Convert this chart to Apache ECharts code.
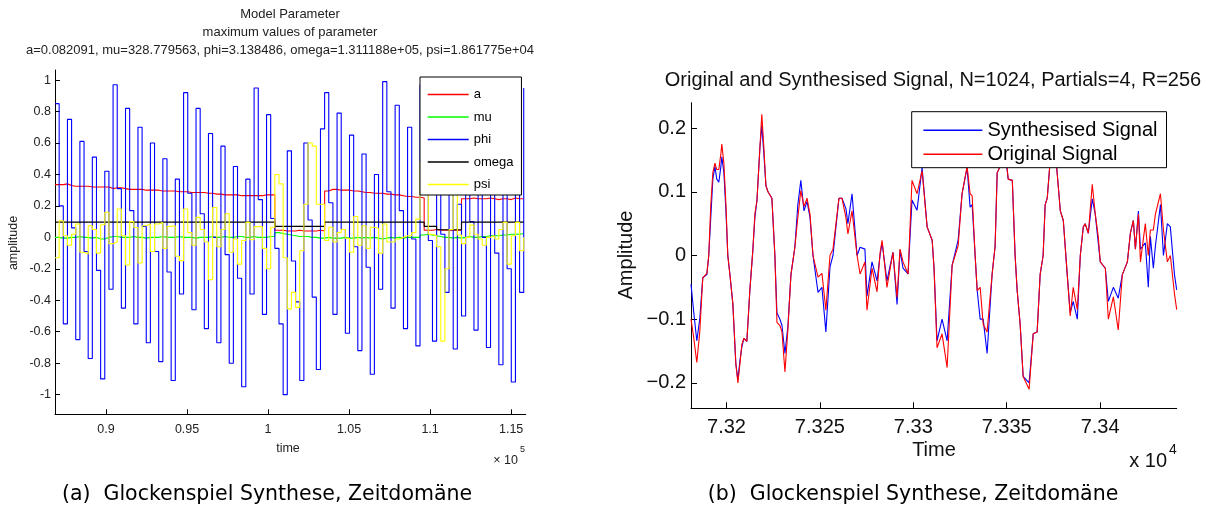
<!DOCTYPE html>
<html><head><meta charset="utf-8">
<script src="https://cdn.jsdelivr.net/npm/echarts@6/dist/echarts.min.js"></script>
<style>html,body{margin:0;padding:0;background:#fff}#c{width:1222px;height:510px}</style>
</head><body><div id="c"></div>
<script>
// ---------- left panel: model parameters (stairs, hop R=256) ----------
const paramStart = 86850;
const paramHop = 256;
const paramA = [0.335,0.335,0.34,0.33,0.325,0.325,0.325,0.325,0.32,0.32,0.32,0.32,0.32,0.31,0.315,0.315,0.31,0.305,0.305,0.305,0.305,0.30,0.30,0.30,0.30,0.295,0.295,0.295,0.295,0.29,0.29,0.29,0.285,0.285,0.285,0.285,0.28,0.28,0.275,0.275,0.27,0.27,0.27,0.27,0.265,0.265,0.265,0.265,0.265,0.265,0.27,0.27,0.27,0.045,0.045,0.04,0.04,0.04,0.045,0.04,0.04,0.04,0.04,0.045,0.04,0.295,0.305,0.305,0.30,0.30,0.30,0.295,0.295,0.29,0.285,0.285,0.28,0.28,0.28,0.275,0.275,0.27,0.27,0.265,0.26,0.26,0.255,0.255,0.25,0.045,0.045,0.05,0.045,0.045,0.045,0.045,0.045,0.045,0.245,0.245,0.25,0.245,0.245,0.245,0.25,0.245,0.24,0.245,0.245,0.24,0.25,0.245,0.245,0.245];
const paramMu = [0.0,-0.005,-0.005,0.0,0.0,0.005,0.0,0.0,-0.005,0.0,-0.01,-0.01,0.0,0.005,0.005,0.0,0.0,0.0,0.005,0.0,0.0,-0.005,0.0,0.0,0.0,0.005,0.0,0.0,0.0,0.005,0.0,0.0,0.0,-0.005,0.0,0.0,0.0,0.005,0.0,0.0,0.005,0.0,0.0,0.005,0.005,0.0,0.0,0.005,0.0,0.0,0.0,0.005,0.005,0.03,0.025,0.02,0.015,0.01,0.005,0.005,0.005,0.0,0.0,-0.005,-0.005,0.0,-0.005,-0.005,-0.005,0.0,-0.005,-0.005,0.0,-0.005,0.0,-0.005,0.0,-0.005,-0.01,-0.005,0.0,-0.005,0.0,-0.005,0.0,0.0,0.0,0.0,0.015,0.02,0.015,0.01,0.005,0.0,0.0,-0.005,0.0,-0.005,0.0,0.005,0.0,0.0,0.005,0.005,0.01,0.01,0.01,0.015,0.015,0.02,0.02,0.02,0.025,0.025];
const paramPhi = [0.85,0.20,-0.55,0.75,0.06,-0.65,0.61,-0.09,-0.77,0.51,-0.21,-0.90,0.42,-0.33,0.97,0.31,-0.45,0.82,0.17,-0.55,0.70,0.07,-0.67,0.60,-0.09,-0.79,0.50,-0.22,-0.91,0.37,-0.36,0.92,0.28,-0.46,0.82,0.15,-0.58,0.66,0.00,-0.67,0.58,-0.11,-0.80,0.45,-0.26,-0.95,0.37,-0.36,0.95,0.24,-0.49,0.78,0.12,-0.07,-0.55,-1.0,0.55,-0.15,-0.41,-0.91,0.60,0.11,-0.38,-0.84,0.69,0.92,0.22,-0.49,0.79,0.05,-0.61,0.65,-0.06,-0.72,0.53,-0.19,-0.87,0.40,-0.33,0.99,0.29,-0.45,0.84,0.17,-0.58,0.70,-0.01,-0.69,0.97,0.35,-0.02,-0.66,0.62,0.02,-0.35,0.75,-0.71,0.21,-0.50,0.82,0.10,-0.59,0.72,0.00,-0.70,0.63,-0.10,-0.81,0.55,-0.20,-0.92,0.48,-0.35,0.95];
const paramOmega = [0.097,0.097,0.097,0.097,0.097,0.097,0.097,0.097,0.097,0.097,0.097,0.097,0.097,0.097,0.097,0.097,0.097,0.097,0.097,0.097,0.097,0.097,0.097,0.097,0.097,0.097,0.097,0.097,0.097,0.097,0.097,0.097,0.097,0.097,0.097,0.097,0.097,0.097,0.097,0.097,0.097,0.097,0.097,0.097,0.097,0.097,0.097,0.097,0.097,0.097,0.097,0.097,0.097,0.07,0.07,0.07,0.07,0.07,0.07,0.07,0.07,0.07,0.07,0.07,0.07,0.097,0.097,0.097,0.097,0.097,0.097,0.097,0.097,0.097,0.097,0.097,0.097,0.097,0.097,0.097,0.097,0.097,0.097,0.097,0.097,0.097,0.097,0.097,0.097,0.07,0.07,0.07,0.048,0.048,0.048,0.048,0.048,0.048,0.097,0.097,0.097,0.097,0.097,0.097,0.097,0.097,0.097,0.097,0.097,0.097,0.097,0.097,0.097,0.097];
const paramPsi = [-0.13,0.106,0.01,-0.05,0.02,0.085,-0.095,-0.106,0.074,0.05,-0.10,0.08,0.16,-0.04,-0.03,0.18,0.01,-0.176,0.10,0.063,-0.163,0.074,0.085,-0.09,0.085,0.095,-0.07,0.07,0.074,-0.12,-0.148,0.18,0.03,-0.05,0.127,0.05,-0.03,-0.27,0.19,-0.06,0.05,0.15,-0.095,-0.01,-0.17,-0.02,0.095,-0.015,0.068,0.068,-0.07,-0.2,0.064,0.40,0.34,-0.13,-0.455,-0.35,-0.445,-0.085,0.21,0.60,0.58,0.21,0.21,-0.02,0.064,-0.03,0.03,0.05,-0.006,-0.095,0.133,-0.05,0.074,-0.07,0.064,0.057,-0.1,0.085,-0.03,-0.03,-0.01,0.0,0.01,0.01,0.03,0.116,0.48,0.55,0.02,0.01,-0.06,-0.66,-0.2,0.05,0.275,0.015,-0.04,0.0,0.078,0.02,-0.01,-0.05,0.0,0.01,-0.01,0.05,0.095,-0.17,0.01,0.095,-0.085,0.0];
const paramNames = ['a','mu','phi','omega','psi'];
const leftXTicks = [90000,95000,100000,105000,110000,115000];
const leftYTicks = [-1,-0.8,-0.6,-0.4,-0.2,0,0.2,0.4,0.6,0.8,1];
const leftTitleLines = ['Model Parameter','maximum values of parameter','a=0.082091, mu=328.779563, phi=3.138486, omega=1.311188e+05, psi=1.861775e+04'];

// ---------- right panel: original vs synthesised signal ----------
const sigTime = [73181.0,73182.5,73184.1,73185.7,73187.3,73189.5,73190.5,73191.6,73192.7,73193.8,73194.8,73195.9,73197.0,73197.5,73198.6,73199.7,73200.7,73201.8,73203.4,73205.0,73206.1,73207.2,73208.2,73209.3,73210.9,73212.5,73214.1,73215.2,73216.3,73217.9,73218.9,73220.0,73221.1,73222.2,73224.3,73225.9,73227.0,73228.6,73229.7,73231.3,73232.9,73234.5,73236.6,73238.2,73239.8,73241.5,73243.1,73244.7,73246.3,73249.0,73251.1,73253.2,73255.4,73257.0,73260.2,73261.8,73263.9,73265.0,73267.2,73269.9,73271.5,73274.1,73275.2,73277.9,73280.6,73282.2,73283.3,73285.9,73289.1,73291.3,73292.9,73294.5,73297.2,73299.3,73302.0,73304.7,73307.4,73310.1,73311.1,73312.7,73315.4,73318.1,73320.8,73324.0,73326.1,73328.8,73330.4,73331.5,73333.1,73334.2,73335.8,73337.4,73339.5,73342.2,73343.8,73344.9,73346.5,73349.2,73350.8,73353.0,73354.5,73355.6,73357.2,73358.8,73362.0,73364.2,73366.3,73367.9,73369.5,73370.6,73371.7,73373.3,73376.0,73377.0,73378.7,73380.3,73382.4,73384.0,73385.6,73387.8,73389.4,73391.0,73392.0,73393.7,73395.8,73397.4,73399.0,73400.1,73402.8,73404.4,73407.1,73409.7,73411.9,73414.6,73416.2,73417.8,73418.9,73420.5,73421.6,73424.2,73425.8,73426.9,73428.5,73429.6,73432.3,73433.9,73436.0,73437.6,73439.8,73441.0];
const sigSynth = [-0.045,-0.09,-0.134,-0.10,-0.035,-0.03,0.0,0.06,0.12,0.14,0.12,0.115,0.14,0.155,0.13,0.07,0.0,-0.029,-0.076,-0.17,-0.195,-0.165,-0.144,-0.13,-0.135,-0.055,0.008,0.06,0.086,0.17,0.204,0.16,0.11,0.10,0.09,0.0,-0.09,-0.10,-0.11,-0.154,-0.11,-0.03,0.013,0.08,0.118,0.07,0.085,0.06,0.0,-0.058,-0.05,-0.12,-0.018,0.0,0.09,0.09,0.074,0.05,0.097,0.0,0.013,0.01,-0.064,-0.01,-0.04,0.0,0.02,-0.04,0.005,-0.077,0.008,-0.02,-0.029,0.087,0.071,0.138,0.045,0.024,-0.02,-0.134,-0.1,-0.134,-0.015,0.024,0.097,0.138,0.076,0.08,0.0,-0.055,-0.1,-0.1,-0.154,-0.029,0.015,0.13,0.14,0.16,0.12,0.118,0.0,-0.055,-0.108,-0.19,-0.2,-0.123,-0.12,-0.03,0.0,0.08,0.09,0.15,0.16,0.13,0.07,0.055,-0.03,-0.09,-0.072,-0.1,0.0,0.045,0.05,0.035,0.089,0.065,0.02,-0.01,-0.02,-0.072,-0.05,-0.067,-0.03,-0.01,0.035,0.055,0.01,0.07,0.01,0.02,-0.05,0.03,-0.02,0.015,0.08,0.0,0.05,0.045,-0.03,-0.054];
const sigOrig = [-0.10,-0.13,-0.168,-0.12,-0.035,-0.028,0.0,0.08,0.13,0.145,0.135,0.135,0.16,0.175,0.145,0.08,0.0,-0.029,-0.076,-0.17,-0.20,-0.17,-0.14,-0.13,-0.135,-0.055,0.008,0.066,0.086,0.17,0.222,0.17,0.11,0.10,0.09,0.0,-0.105,-0.11,-0.12,-0.183,-0.115,-0.03,0.013,0.06,0.102,0.077,0.09,0.065,0.0,-0.034,-0.028,-0.086,0.0,0.01,0.09,0.09,0.06,0.034,0.07,0.0,-0.029,-0.01,-0.086,-0.02,-0.057,0.004,0.024,-0.05,0.005,-0.066,0.01,-0.01,-0.029,0.118,0.097,0.133,0.045,0.024,-0.02,-0.145,-0.123,-0.176,-0.015,0.015,0.097,0.14,0.097,0.094,0.0,-0.055,-0.05,-0.108,-0.12,-0.029,0.015,0.13,0.14,0.17,0.12,0.118,0.0,-0.055,-0.108,-0.19,-0.21,-0.123,-0.12,-0.03,0.0,0.08,0.09,0.15,0.17,0.13,0.07,0.055,-0.03,-0.095,-0.05,-0.085,0.0,0.045,0.05,0.035,0.112,0.065,0.03,-0.01,-0.02,-0.1,-0.065,-0.117,-0.03,-0.01,0.035,0.055,0.01,0.065,-0.01,0.05,0.0,0.04,0.04,0.065,0.097,0.04,-0.01,0.0,-0.06,-0.085];
const rightXTicks = [73200,73250,73300,73350,73400];
const rightYTicks = [-0.2,-0.1,0,0.1,0.2];
const rightNames = ['Synthesised Signal','Original Signal'];
const rightTitle = 'Original and Synthesised Signal, N=1024, Partials=4, R=256';
const captions = ['(a)  Glockenspiel Synthese, Zeitdomäne','(b)  Glockenspiel Synthese, Zeitdomäne'];

const FL = 'Liberation Sans';
const CAP = 'DejaVu Sans';
const chart = echarts.init(document.getElementById('c'), null, {renderer:'canvas', width:1222, height:510});

const stepData = arr => arr.map((v, i) => [paramStart + i * paramHop, v]);
const sigData = arr => arr.map((v, i) => [sigTime[i], v]);
const paramColors = ['#ff0000','#00ff00','#0000ff','#000000','#ffff00'];
const rightColors = ['#0000ff','#ff0000'];
const paramArrays = [paramA, paramMu, paramPhi, paramOmega, paramPsi];

const axisBase = () => ({
  axisLine: {onZero:false, lineStyle:{color:'#000', width:1}},
  splitLine: {show:false}
});
const hiddenSymbol = {color:'rgba(0,0,0,0)', borderColor:'rgba(0,0,0,0)', borderWidth:0, opacity:0};

const option = {
  animation: false,
  backgroundColor: '#fff',
  grid: [
    {left:55, top:70, width:470.7, height:344.3},
    {left:691, top:102.7, width:485.7, height:305.6}
  ],
  xAxis: [
    Object.assign(axisBase(), {gridIndex:0, type:'value', min:86850, max:115900,
      axisTick:{inside:true, length:5, customValues:leftXTicks, lineStyle:{color:'#000'}},
      axisLabel:{customValues:leftXTicks, margin:9, fontSize:12.5, fontFamily:FL, color:'#222',
        formatter: v => String(+(v/1e5).toFixed(2))}}),
    Object.assign(axisBase(), {gridIndex:1, type:'value', min:73181, max:73441,
      axisTick:{inside:true, length:6, customValues:rightXTicks, lineStyle:{color:'#000'}},
      axisLabel:{customValues:rightXTicks, margin:9, fontSize:20, fontFamily:FL, color:'#111',
        formatter: v => String(+(v/1e4).toFixed(3))}})
  ],
  yAxis: [
    Object.assign(axisBase(), {gridIndex:0, type:'value', min:-1.125, max:1.064,
      axisTick:{inside:true, length:5, customValues:leftYTicks, lineStyle:{color:'#000'}},
      axisLabel:{customValues:leftYTicks, margin:4, fontSize:12.5, fontFamily:FL, color:'#222',
        formatter: v => String(+v.toFixed(1))}}),
    Object.assign(axisBase(), {gridIndex:1, type:'value', min:-0.24, max:0.24,
      axisTick:{inside:true, length:6, customValues:rightYTicks, lineStyle:{color:'#000'}},
      axisLabel:{customValues:rightYTicks, margin:5, fontSize:20, fontFamily:FL, color:'#111',
        formatter: v => { const r = +v.toFixed(1); return r === 0 ? '0' : (r < 0 ? '\u2212' : '') + Math.abs(r); }}})
  ],
  legend: [
    {data: paramNames.map((n, k) => ({name:n, lineStyle:{color:paramColors[k], width:1.4}})),
     orient:'vertical', left:420, top:77, padding:[11,8,4,7], z:20,
     itemWidth:41, itemHeight:14, itemGap:9.5, backgroundColor:'#fff', borderColor:'#000', borderWidth:1,
     borderRadius:0, selectedMode:false, itemStyle: hiddenSymbol,
     textStyle:{fontSize:13, fontFamily:FL, color:'#000'}},
    {data: rightNames.map((n, k) => ({name:n, lineStyle:{color:rightColors[k], width:1.4}})),
     orient:'vertical', left:911.7, top:111.7, padding:[8.5,9,3.5,11], z:20,
     itemWidth:59, itemHeight:14, itemGap:4, backgroundColor:'#fff', borderColor:'#000', borderWidth:1,
     borderRadius:0, selectedMode:false, itemStyle: hiddenSymbol,
     textStyle:{fontSize:20, fontFamily:FL, color:'#000'}}
  ],
  series: paramNames.map((n, k) => ({
    name:n, type:'line', xAxisIndex:0, yAxisIndex:0, step:'end', symbol:'none',
    data: stepData(paramArrays[k]), color: paramColors[k],
    lineStyle:{width:1.1, color:paramColors[k]}, z:2
  })).concat([
    {name:rightNames[0], type:'line', xAxisIndex:1, yAxisIndex:1, symbol:'none',
     data: sigData(sigSynth), color:rightColors[0], lineStyle:{width:1.1, color:rightColors[0]}, z:2},
    {name:rightNames[1], type:'line', xAxisIndex:1, yAxisIndex:1, symbol:'none',
     data: sigData(sigOrig), color:rightColors[1], lineStyle:{width:1.1, color:rightColors[1]}, z:2}
  ]),
  graphic: [
    {type:'text', x:290, y:14, style:{text:leftTitleLines[0], fontSize:13, fontFamily:FL, fill:'#222', align:'center', verticalAlign:'middle'}},
    {type:'text', x:290, y:32, style:{text:leftTitleLines[1], fontSize:13, fontFamily:FL, fill:'#222', align:'center', verticalAlign:'middle'}},
    {type:'text', x:280, y:50, style:{text:leftTitleLines[2], fontSize:13, fontFamily:FL, fill:'#222', align:'center', verticalAlign:'middle'}},
    {type:'text', x:14, y:243, rotation:Math.PI/2, style:{text:'amplitude', fontSize:12.5, fontFamily:FL, fill:'#222', align:'center', verticalAlign:'middle'}},
    {type:'text', x:288, y:449, style:{text:'time', fontSize:12.5, fontFamily:FL, fill:'#222', align:'center', verticalAlign:'middle'}},
    {type:'text', x:518, y:461, style:{text:'\u00d7 10', fontSize:12.5, fontFamily:FL, fill:'#222', align:'right', verticalAlign:'middle'}},
    {type:'text', x:520, y:450, style:{text:'5', fontSize:9, fontFamily:FL, fill:'#222', align:'left', verticalAlign:'middle'}},
    {type:'text', x:933, y:80, style:{text:rightTitle, fontSize:20, fontFamily:FL, fill:'#111', align:'center', verticalAlign:'middle'}},
    {type:'text', x:626, y:255, rotation:Math.PI/2, style:{text:'Amplitude', fontSize:20, fontFamily:FL, fill:'#111', align:'center', verticalAlign:'middle'}},
    {type:'text', x:934, y:450, style:{text:'Time', fontSize:20, fontFamily:FL, fill:'#111', align:'center', verticalAlign:'middle'}},
    {type:'text', x:1167, y:461, style:{text:'x 10', fontSize:20, fontFamily:FL, fill:'#111', align:'right', verticalAlign:'middle'}},
    {type:'text', x:1169, y:450, style:{text:'4', fontSize:14, fontFamily:FL, fill:'#111', align:'left', verticalAlign:'middle'}},
    {type:'text', x:267, y:495, style:{text:captions[0], fontSize:20.5, fontFamily:CAP, fill:'#000', align:'center', verticalAlign:'middle'}},
    {type:'text', x:913, y:495, style:{text:captions[1], fontSize:20.5, fontFamily:CAP, fill:'#000', align:'center', verticalAlign:'middle'}}
  ]
};
chart.setOption(option);
</script></body></html>
